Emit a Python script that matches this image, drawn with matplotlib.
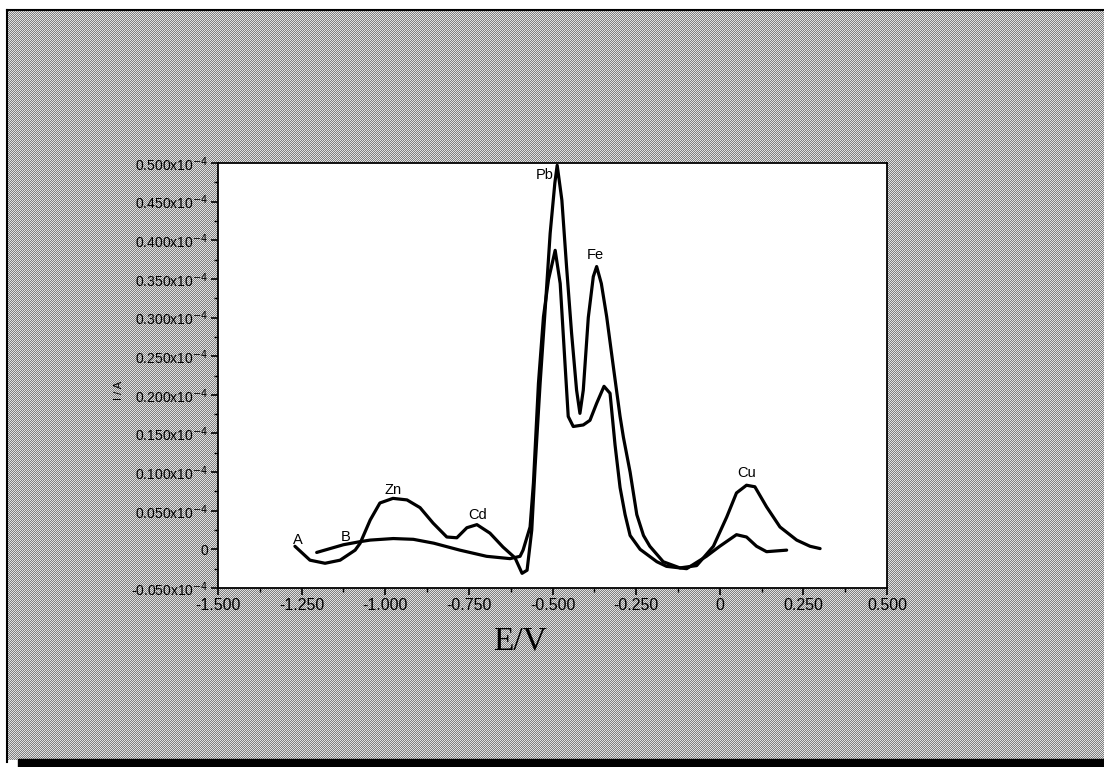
import numpy as np
import matplotlib
matplotlib.use("Agg")
import matplotlib.pyplot as plt
from matplotlib.ticker import MultipleLocator, FixedLocator, FixedFormatter

plt.rcParams['axes.unicode_minus'] = False

# ---- data (E in V, I in units of 1e-4 A) ----
E_a = [-1.270, -1.225, -1.180, -1.135, -1.090, -1.075, -1.045, -1.016, -0.977, -0.935,
       -0.896, -0.857, -0.816, -0.786, -0.756, -0.726, -0.687, -0.648, -0.612, -0.591,
       -0.576, -0.562, -0.552, -0.537, -0.522, -0.507, -0.493, -0.486, -0.472, -0.458,
       -0.443, -0.428, -0.418, -0.408, -0.393, -0.378, -0.368, -0.354, -0.338, -0.318,
       -0.298, -0.288, -0.268, -0.248, -0.228, -0.209, -0.169, -0.119, -0.069, -0.019,
       0.021, 0.050, 0.080, 0.105, 0.140, 0.180, 0.230, 0.270, 0.300]
I_a = [0.004, -0.014, -0.018, -0.014, -0.001, 0.008, 0.038, 0.060, 0.066, 0.064,
       0.054, 0.034, 0.016, 0.015, 0.028, 0.032, 0.021, 0.003, -0.011, -0.031,
       -0.027, 0.025, 0.107, 0.215, 0.310, 0.409, 0.474, 0.497, 0.452, 0.366,
       0.280, 0.206, 0.176, 0.206, 0.300, 0.353, 0.366, 0.344, 0.301, 0.236,
       0.172, 0.145, 0.100, 0.045, 0.018, 0.004, -0.016, -0.024, -0.021, 0.004,
       0.042, 0.073, 0.083, 0.081, 0.055, 0.029, 0.012, 0.004, 0.001]

E_b = [-1.205, -1.125, -1.075, -1.045, -0.976, -0.916, -0.855, -0.777, -0.697, -0.627,
       -0.597, -0.588, -0.567, -0.557, -0.542, -0.527, -0.512, -0.492, -0.477, -0.462,
       -0.453, -0.438, -0.408, -0.388, -0.368, -0.346, -0.328, -0.313, -0.298, -0.283,
       -0.268, -0.238, -0.188, -0.159, -0.099, -0.040, 0.000, 0.050, 0.080, 0.110,
       0.140, 0.200]
I_b = [-0.004, 0.006, 0.010, 0.012, 0.014, 0.013, 0.008, -0.001, -0.009, -0.012,
       -0.009, -0.001, 0.029, 0.086, 0.215, 0.301, 0.349, 0.387, 0.344, 0.236,
       0.172, 0.159, 0.161, 0.167, 0.189, 0.211, 0.202, 0.135, 0.080, 0.045,
       0.018, 0.000, -0.016, -0.022, -0.025, -0.009, 0.004, 0.019, 0.016, 0.004,
       -0.003, -0.001]

peak_names = ["A", "B", "Zn", "Cd", "Pb", "Fe", "Cu"]
peak_E = [-1.261, -1.118, -0.977, -0.724, -0.522, -0.371, 0.081]
peak_I = [0.012, 0.016, 0.077, 0.045, 0.485, 0.381, 0.099]

x_ticks = [-1.5, -1.25, -1.0, -0.75, -0.5, -0.25, 0.0, 0.25, 0.5]
x_labels = ["-1.500", "-1.250", "-1.000", "-0.750", "-0.500", "-0.250", "0", "0.250", "0.500"]
y_ticks = [-0.05, 0.0, 0.05, 0.10, 0.15, 0.20, 0.25, 0.30, 0.35, 0.40, 0.45, 0.50]
y_labels = ["-0.050x10$^{-4}$", "0", "0.050x10$^{-4}$", "0.100x10$^{-4}$", "0.150x10$^{-4}$",
            "0.200x10$^{-4}$", "0.250x10$^{-4}$", "0.300x10$^{-4}$", "0.350x10$^{-4}$",
            "0.400x10$^{-4}$", "0.450x10$^{-4}$", "0.500x10$^{-4}$"]

W, H = 1104, 767
fig = plt.figure(figsize=(W / 100, H / 100), dpi=100)
fig.patch.set_facecolor("white")

# ---- background frame with dotted texture (pixel exact) ----
x0, y0, x1, y1 = 7, 10, W, 760
ii, jj = np.indices((y1 - y0, x1 - x0))
tex = np.where((ii + jj) % 2 == 0, 0.50, 0.88)
fig.figimage(tex, xo=x0, yo=H - y1, origin="upper", cmap="gray", vmin=0, vmax=1, zorder=-10)

bg = fig.add_axes([0, 0, 1, 1], zorder=-5)
bg.axis("off")
bg.plot([x0, x1], [y0, y0], color="black", lw=1.5)
bg.plot([x0, x0], [y0, y1 + 2], color="black", lw=1.5)
bg.fill_between([18, W], [759, 759], [H, H], color="black")
bg.set_xlim(0, W)
bg.set_ylim(H, 0)

# ---- main axes ----
ax = fig.add_axes([218 / W, 1 - 588 / H, (887 - 218) / W, (588 - 163) / H])
ax.set_facecolor("white")
ax.plot(E_a, I_a, color="black", lw=2.3, solid_joinstyle="round", solid_capstyle="round")
ax.plot(E_b, I_b, color="black", lw=2.3, solid_joinstyle="round", solid_capstyle="round")

for n, e, i in zip(peak_names, peak_E, peak_I):
    ax.text(e, i, n, fontsize=10.5, ha="center", va="center", color="black",
            family=["Liberation Sans", "DejaVu Sans"])

ax.set_xlim(-1.5, 0.5)
ax.set_ylim(-0.05, 0.5)
ax.xaxis.set_major_locator(FixedLocator(x_ticks))
ax.xaxis.set_major_formatter(FixedFormatter(x_labels))
ax.yaxis.set_major_locator(FixedLocator(y_ticks))
ax.yaxis.set_major_formatter(FixedFormatter(y_labels))
ax.xaxis.set_minor_locator(MultipleLocator(0.125))
ax.yaxis.set_minor_locator(MultipleLocator(0.025))
ax.tick_params(which="major", direction="out", length=5, width=1.2, pad=2)
ax.tick_params(which="minor", direction="out", length=3, width=1.0)
ax.tick_params(top=False, right=False, which="both")
for lab in ax.get_xticklabels():
    lab.set_family(["Liberation Sans", "DejaVu Sans"])
    lab.set_fontsize(11.5)
for lab in ax.get_yticklabels():
    lab.set_family(["Liberation Sans", "DejaVu Sans"])
    lab.set_fontsize(10)
for sp in ax.spines.values():
    sp.set_linewidth(1.3)
    sp.set_color("black")

fig.text(520 / W, 1 - 641 / H, "E/V", fontsize=24, ha="center", va="center",
         family=["Liberation Serif", "DejaVu Serif"])
fig.text(119 / W, 1 - 390 / H, "I / A", fontsize=8, rotation=90, ha="center", va="center",
         family=["Liberation Sans", "DejaVu Sans"])

fig.savefig("out.png", dpi=100)
